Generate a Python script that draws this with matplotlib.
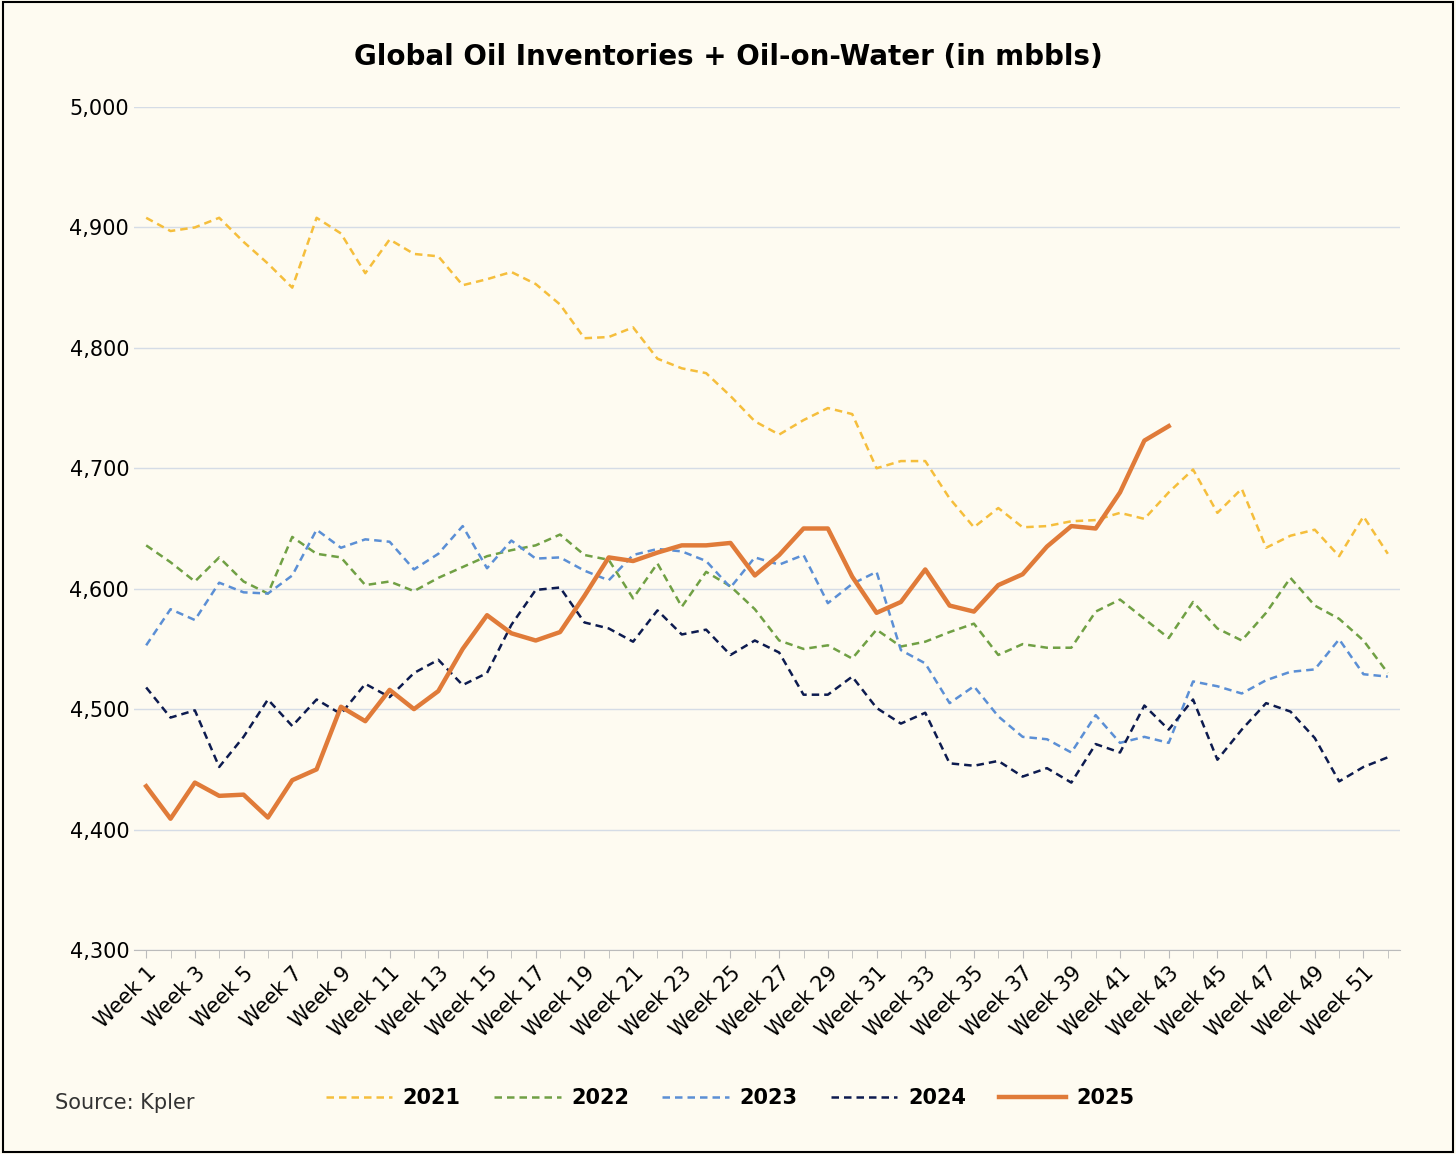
import matplotlib
matplotlib.use("Agg")
import matplotlib.pyplot as plt
from matplotlib.patches import Rectangle

weeks = [f"Week {i}" for i in range(1, 53)]
y2021 = [4908,4897,4900,4908,4888,4870,4850,4908,4895,4862,4890,4878,4876,4852,4857,4863,4853,4836,4808,4809,4817,4791,4783,4779,4760,4739,4728,4740,4750,4745,4700,4706,4706,4675,4651,4667,4651,4652,4656,4657,4663,4658,4680,4699,4663,4683,4634,4644,4649,4627,4660,4629]
y2022 = [4636,4622,4606,4626,4606,4596,4643,4629,4626,4603,4606,4598,4609,4618,4627,4632,4636,4645,4628,4624,4592,4621,4585,4614,4602,4583,4557,4550,4553,4542,4566,4552,4556,4564,4571,4545,4554,4551,4551,4581,4591,4575,4559,4589,4567,4557,4580,4609,4586,4575,4557,4530]
y2023 = [4553,4583,4574,4605,4597,4596,4611,4649,4634,4641,4639,4616,4629,4652,4617,4640,4625,4626,4615,4607,4628,4633,4631,4623,4601,4626,4620,4628,4588,4604,4614,4549,4538,4505,4519,4494,4477,4475,4464,4495,4472,4477,4472,4523,4519,4513,4524,4531,4533,4558,4529,4527]
y2024 = [4518,4493,4499,4452,4477,4508,4486,4508,4496,4521,4510,4530,4541,4520,4530,4570,4599,4601,4572,4567,4556,4582,4562,4566,4545,4557,4547,4512,4512,4527,4501,4488,4497,4455,4453,4457,4444,4451,4439,4471,4464,4503,4483,4508,4458,4483,4505,4498,4476,4440,4452,4460]
y2025 = [4436,4409,4439,4428,4429,4410,4441,4450,4502,4490,4516,4500,4515,4550,4578,4563,4557,4564,4594,4626,4623,4630,4636,4636,4638,4611,4628,4650,4650,4610,4580,4589,4616,4586,4581,4603,4612,4635,4652,4650,4680,4723,4735]

bg = "#FEFBF1"
fig = plt.figure(figsize=(14.56, 11.54), dpi=100, facecolor=bg)
fig.patches.append(Rectangle((0.002, 0.002), 0.996, 0.996, transform=fig.transFigure,
                             fill=False, edgecolor="black", linewidth=1.5))
ax = fig.add_axes([134/1456, 1 - 950/1154, (1400-134)/1456, (950-107)/1154], facecolor=bg)

x = list(range(52))
ax.plot(x, y2021, color="#F5BE3C", ls=(0, (3, 2)), lw=1.8, label="2021")
ax.plot(x, y2022, color="#70A044", ls=(0, (3, 2)), lw=1.8, label="2022")
ax.plot(x, y2023, color="#5B8FD5", ls=(0, (3, 2)), lw=1.8, label="2023")
ax.plot(x, y2024, color="#0D1B4F", ls=(0, (3, 2)), lw=1.8, label="2024")
ax.plot(range(len(y2025)), y2025, color="#E07B39", lw=3.2, label="2025")

ax.set_ylim(4300, 5000)
ax.set_xlim(-0.5, 51.5)
ax.set_yticks(range(4300, 5001, 100))
ax.set_yticklabels([f"{v:,}" for v in range(4300, 5001, 100)], fontsize=15)
ax.set_xticks(x[::2])
ax.set_xticklabels(weeks[::2], rotation=45, ha="right", rotation_mode="anchor", fontsize=15)
ax.set_xticks(x, minor=True)
ax.tick_params(axis="x", which="both", length=6, color="#BBBBBB")
ax.tick_params(axis="y", length=0)
ax.grid(axis="y", color="#D5DCE6", lw=1)
for s in ["top", "right", "left"]:
    ax.spines[s].set_visible(False)
ax.spines["bottom"].set_color("#BBBBBB")

fig.text(0.5, 1 - 57/1154, "Global Oil Inventories + Oil-on-Water (in mbbls)",
         ha="center", va="center", fontsize=20, fontweight="bold")
fig.text(55/1456, 1 - 1103/1154, "Source: Kpler", fontsize=15, va="center", color="#333333")
leg = fig.legend(loc="center", bbox_to_anchor=(730/1456, 1 - 1098/1154), ncol=5,
                 frameon=False, prop={"weight": "bold", "size": 15},
                 handlelength=3.2, handletextpad=0.5, columnspacing=1.6)
fig.savefig("out.png", dpi=100, facecolor=bg)
